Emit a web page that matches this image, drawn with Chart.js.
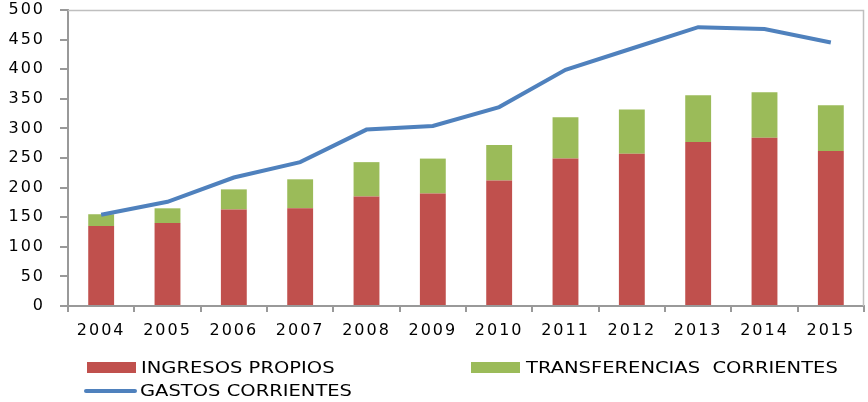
<!DOCTYPE html>
<html>
<head>
<meta charset="utf-8">
<script src="https://cdn.jsdelivr.net/npm/chart.js@4"></script>
<style>
  html, body { margin: 0; padding: 0; background: #fff; }
  #wrap { position: relative; width: 868px; height: 402px; overflow: hidden; }
  #c { position: absolute; left: 0; top: 0; }
  .lg { position: absolute; }
  .lt { position: absolute; font: 15px "DejaVu Sans", sans-serif; color: #000; white-space: pre;
        transform: scaleX(1.3); transform-origin: left center; line-height: 18px; }
</style>
</head>
<body>
<div id="wrap">
  <canvas id="c" width="868" height="402"></canvas>
  <div class="lg" id="lgRed" style="left:87px; top:362px; width:49px; height:11px;"></div>
  <div class="lt" id="ltRed" style="left:141px; top:359px;"></div>
  <div class="lg" id="lgGreen" style="left:471px; top:362px; width:49px; height:11px;"></div>
  <div class="lt" id="ltGreen" style="left:526px; top:359px;"></div>
  <div class="lg" id="lgBlue" style="left:84px; top:389px; width:53px; height:4px; border-radius:2px;"></div>
  <div class="lt" id="ltBlue" style="left:140px; top:382px;"></div>
</div>
<script>
const categories = ['2004','2005','2006','2007','2008','2009','2010','2011','2012','2013','2014','2015'];
const ingresosPropios = [135, 140, 163, 165, 185, 190, 212, 249, 257, 277, 284, 262];
const transferenciasCorrientes = [20, 25, 34, 49, 58, 59, 60, 70, 75, 79, 77, 77];
const gastosCorrientes = [154, 176, 217, 243, 298, 304, 336, 399, 435, 471, 468, 445];
const yTicks = [0, 50, 100, 150, 200, 250, 300, 350, 400, 450, 500];
const seriesNames = ['INGRESOS PROPIOS', 'TRANSFERENCIAS  CORRIENTES', 'GASTOS CORRIENTES'];

const RED = '#C0504D', GREEN = '#9BBB59', BLUE = '#4F81BD';

document.getElementById('lgRed').style.background = RED;
document.getElementById('lgGreen').style.background = GREEN;
document.getElementById('lgBlue').style.background = BLUE;
document.getElementById('ltRed').textContent = seriesNames[0];
document.getElementById('ltGreen').textContent = seriesNames[1];
document.getElementById('ltBlue').textContent = seriesNames[2];

const plotBorder = {
  id: 'plotBorder',
  beforeDraw(chart) {
    chart.ctx.letterSpacing = '2px';
  },
  beforeDatasetsDraw(chart) {
    const { ctx, chartArea: a } = chart;
    ctx.save();
    ctx.letterSpacing = '0px';
    ctx.strokeStyle = '#BFBFBF';
    ctx.lineWidth = 1.5;
    ctx.beginPath();
    ctx.moveTo(a.left, a.top + 0.5);
    ctx.lineTo(a.right - 0.5, a.top + 0.5);
    ctx.lineTo(a.right - 0.5, a.bottom);
    ctx.stroke();
    ctx.restore();
  },
  afterDraw(chart) {
    chart.ctx.letterSpacing = '0px';
  }
};

new Chart(document.getElementById('c'), {
  type: 'bar',
  data: {
    labels: categories,
    datasets: [
      {
        type: 'line',
        label: seriesNames[2],
        data: gastosCorrientes,
        borderColor: BLUE,
        backgroundColor: BLUE,
        borderWidth: 4,
        pointRadius: 0,
        tension: 0,
        stack: 'line',
        order: 0
      },
      {
        label: seriesNames[0],
        data: ingresosPropios,
        backgroundColor: RED,
        stack: 'bars',
        categoryPercentage: 1,
        barPercentage: 0.39,
        order: 1
      },
      {
        label: seriesNames[1],
        data: transferenciasCorrientes,
        backgroundColor: GREEN,
        stack: 'bars',
        categoryPercentage: 1,
        barPercentage: 0.39,
        order: 1
      }
    ]
  },
  options: {
    responsive: false,
    animation: false,
    layout: { padding: { top: 0, right: 4, left: 0, bottom: 0 } },
    plugins: { legend: { display: false }, tooltip: { enabled: false } },
    scales: {
      x: {
        stacked: true,
        grid: { display: true, drawOnChartArea: false, offset: true, tickLength: 6, color: '#999', lineWidth: 2 },
        border: { display: true, color: '#999', width: 2 },
        ticks: { color: '#000', font: { family: 'DejaVu Sans', size: 16 }, padding: 9, maxRotation: 0, autoSkip: false },
        afterFit(scale) { scale.height = 96; }
      },
      y: {
        stacked: true,
        min: 0,
        max: 500,
        afterBuildTicks(scale) { scale.ticks = yTicks.map(v => ({ value: v })); },
        grid: { display: true, drawOnChartArea: false, tickLength: 8, color: '#999', lineWidth: 2 },
        border: { display: true, color: '#999', width: 2 },
        ticks: { color: '#000', font: { family: 'DejaVu Sans', size: 16 }, padding: 15 },
        afterFit(scale) { scale.width = 68; scale.paddingTop = 10; scale.paddingBottom = 0; }
      }
    }
  },
  plugins: [plotBorder]
});
</script>
</body>
</html>
